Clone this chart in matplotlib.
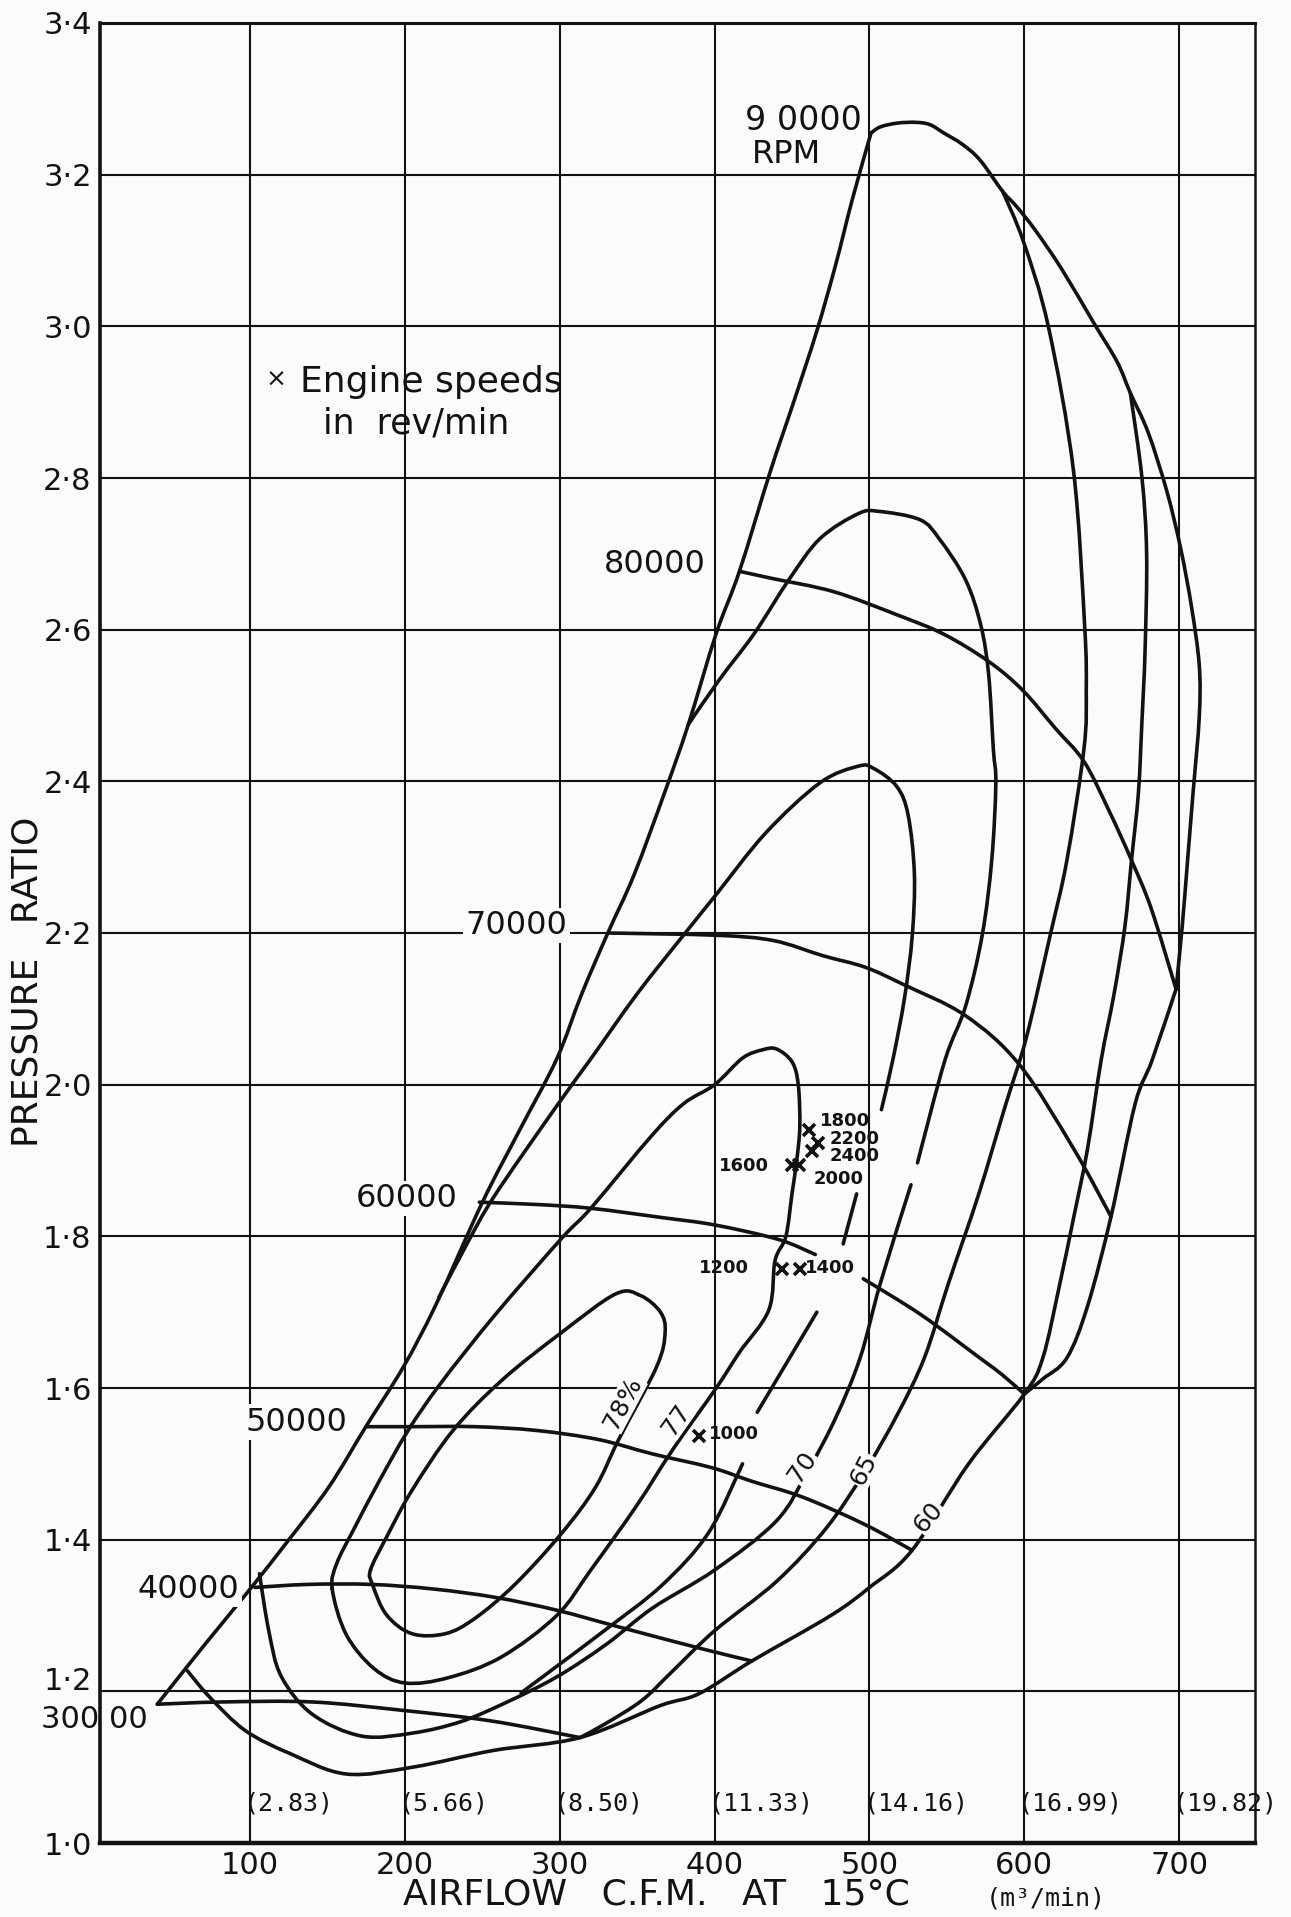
import matplotlib
matplotlib.use("Agg")
import matplotlib.pyplot as plt
from matplotlib.path import Path
from matplotlib.patches import PathPatch
from matplotlib.transforms import ScaledTranslation

plt.rcParams['font.family'] = ['DejaVu Sans']

# ---------------- axes / ticks ----------------
x_ticks = [100, 200, 300, 400, 500, 600, 700]
x_tick_labels = ["100", "200", "300", "400", "500", "600", "700"]
m3_labels = ["(2.83)", "(5.66)", "(8.50)", "(11.33)", "(14.16)", "(16.99)", "(19.82)"]
y_ticks = [1.0, 1.2, 1.4, 1.6, 1.8, 2.0, 2.2, 2.4, 2.6, 2.8, 3.0, 3.2, 3.4]
y_tick_labels = ["1·0", "1·2", "1·4", "1·6", "1·8", "2·0", "2·2", "2·4", "2·6", "2·8", "3·0", "3·2", "3·4"]

# ---------------- surge line ----------------
surge_x = [40, 70, 100, 125, 151, 175, 199, 220, 250, 274, 298, 314, 331, 348, 368, 383, 401, 416, 436, 451, 466, 478, 489, 501]
surge_y = [1.183, 1.26, 1.335, 1.40, 1.47, 1.55, 1.628, 1.71, 1.845, 1.94, 2.034, 2.119, 2.2, 2.277, 2.387, 2.475, 2.595, 2.677, 2.809, 2.90, 2.994, 3.08, 3.168, 3.255]

# ---------------- speed lines (rpm) ----------------
rpm90_x = [501, 507, 518, 530, 539, 548, 560, 571.5, 586, 595, 607, 624, 645, 660, 668.5, 680, 692, 701, 708, 713, 713, 709, 705.5, 702, 698]
rpm90_y = [3.255, 3.263, 3.268, 3.269, 3.266, 3.255, 3.24, 3.219, 3.178, 3.158, 3.127, 3.076, 3.004, 2.953, 2.912, 2.86, 2.783, 2.707, 2.63, 2.553, 2.485, 2.385, 2.297, 2.209, 2.126]
rpm80_x = [416, 436, 477, 518.5, 548, 577, 599, 620, 638.6, 655, 669, 682, 698]
rpm80_y = [2.677, 2.668, 2.65, 2.619, 2.594, 2.558, 2.52, 2.47, 2.426, 2.36, 2.297, 2.232, 2.126]
rpm70_x = [331, 401, 438, 470, 497, 522, 562, 597, 632, 656]
rpm70_y = [2.2, 2.197, 2.19, 2.17, 2.155, 2.132, 2.091, 2.026, 1.915, 1.826]
rpm60a_x = [248, 285, 320, 365, 400, 441, 465]
rpm60a_y = [1.845, 1.842, 1.837, 1.825, 1.815, 1.796, 1.776]
rpm60b_x = [496, 533, 571, 586, 600]
rpm60b_y = [1.744, 1.697, 1.64, 1.617, 1.592]
rpm50_x = [175, 205, 245, 285, 325, 360, 398, 424, 457, 497, 527.5]
rpm50_y = [1.549, 1.549, 1.549, 1.544, 1.532, 1.513, 1.495, 1.477, 1.456, 1.42, 1.386]
rpm40_x = [103, 137.5, 178, 218, 258, 298, 338, 392, 424]
rpm40_y = [1.337, 1.341, 1.341, 1.335, 1.324, 1.307, 1.285, 1.256, 1.24]
rpm30_x = [40, 82.5, 140, 198, 255.5, 313]
rpm30_y = [1.183, 1.186, 1.186, 1.175, 1.161, 1.139]

# upper choke line (from the 90000/80000 corner down to the 60 % boundary)
choke_x = [698, 682.5, 671.5, 656, 641, 627.6, 612, 600]
choke_y = [2.126, 2.032, 1.974, 1.826, 1.709, 1.64, 1.612, 1.592]

# ---------------- efficiency contours ----------------
eff78_x = [177.7, 188, 204.5, 231, 263, 301, 336, 352, 365, 368, 362.5, 338, 323, 301, 271, 245, 226, 204.5, 188, 179, 177.7]
eff78_y = [1.36, 1.403, 1.465, 1.544, 1.611, 1.673, 1.724, 1.722, 1.70, 1.673, 1.628, 1.532, 1.469, 1.408, 1.341, 1.296, 1.276, 1.276, 1.301, 1.341, 1.36]

eff77_x = [153, 156, 167, 183, 202, 223, 258, 301, 320, 359, 380, 400, 418, 431, 440, 450, 454, 455, 453, 450, 446, 439, 435, 416, 401, 373, 349, 320, 298, 262, 228, 200, 180, 162, 153]
eff77_y = [1.335, 1.369, 1.414, 1.476, 1.544, 1.606, 1.696, 1.797, 1.837, 1.932, 1.975, 2.0, 2.035, 2.046, 2.047, 2.03, 2.0, 1.945, 1.90, 1.857, 1.80, 1.768, 1.703, 1.647, 1.60, 1.519, 1.443, 1.36, 1.30, 1.245, 1.218, 1.211, 1.23, 1.275, 1.335]

effD_x = [222, 240, 258, 298, 320, 350, 381, 400.7, 433, 468, 492.8, 502.7, 517.7, 525, 529, 527.6, 522.6, 515, 507.7]
effD_y = [1.72, 1.79, 1.854, 1.972, 2.034, 2.12, 2.2, 2.25, 2.332, 2.398, 2.42, 2.417, 2.393, 2.355, 2.278, 2.196, 2.114, 2.032, 1.967]
effD_dash1_x = [491.7, 483]
effD_dash1_y = [1.856, 1.79]
effD_dash2_x = [466, 427.5]
effD_dash2_y = [1.70, 1.568]
effD_low_x = [418, 396, 366, 330, 300, 275]
effD_low_y = [1.50, 1.409, 1.34, 1.282, 1.236, 1.198]

eff70a_x = [383, 403, 425.6, 448, 468, 492.8, 506, 532.6, 545, 562, 572, 577, 580, 581.6, 579, 572.8, 562, 548.7, 531]
eff70a_y = [2.475, 2.534, 2.595, 2.666, 2.72, 2.753, 2.756, 2.745, 2.72, 2.666, 2.605, 2.54, 2.442, 2.397, 2.297, 2.197, 2.103, 2.032, 1.897]
eff70b_x = [526.8, 507, 494, 478, 460, 440, 400, 360, 330, 298, 265, 236, 205, 172, 140, 120, 112, 106]
eff70b_y = [1.868, 1.738, 1.64, 1.56, 1.49, 1.425, 1.36, 1.31, 1.262, 1.219, 1.185, 1.16, 1.145, 1.141, 1.17, 1.22, 1.28, 1.355]

eff65_x = [586, 599.4, 615.6, 631.8, 639, 640, 638.6, 627.6, 616.7, 601.3, 588, 570.6, 551, 535.5, 518, 497, 472, 440, 400, 372, 353, 330, 313]
eff65_y = [3.178, 3.112, 2.999, 2.809, 2.604, 2.52, 2.444, 2.297, 2.197, 2.062, 1.974, 1.856, 1.738, 1.64, 1.565, 1.49, 1.415, 1.345, 1.28, 1.225, 1.188, 1.158, 1.139]

# 60 % contour: top branch, outer boundary on the right, bottom loop back to the surge line
eff60_x = [668.5, 676, 679, 678, 676, 673.7, 669.3, 665, 658, 649.6, 640.8, 632, 623, 612, 600, 564, 527.5, 500, 475, 424, 390, 364.6, 313, 257, 205, 162, 125.7, 97, 74, 59.5]
eff60_y = [2.912, 2.80, 2.70, 2.573, 2.48, 2.385, 2.297, 2.209, 2.12, 2.032, 1.915, 1.826, 1.738, 1.64, 1.592, 1.50, 1.386, 1.337, 1.30, 1.24, 1.197, 1.181, 1.139, 1.122, 1.10, 1.091, 1.118, 1.148, 1.192, 1.227]

# ---------------- engine speed points ----------------
eng_x = [390, 443.5, 455, 450, 454.5, 461, 467, 463]
eng_y = [1.537, 1.757, 1.757, 1.894, 1.894, 1.94, 1.923, 1.913]

# ---------------- labels ----------------
rpm_labels = ["80000", "70000", "60000", "50000", "40000"]
rpm_label_x = [394, 305, 234, 163, 93]
rpm_label_y = [2.686, 2.21, 1.85, 1.555, 1.334]

eff_labels = ["78%", "77", "70", "65", "60"]
eff_label_x = [341, 375, 456.6, 496, 538]
eff_label_y = [1.58, 1.558, 1.496, 1.492, 1.43]
eff_label_rot = [62, 55, 55, 62, 50]

INK = '#121212'
BG = '#fbfbfb'


def smooth(xs, ys):
    """Bezier path through every traced point (Catmull-Rom tangents)."""
    pts = list(zip(xs, ys))
    n = len(pts)
    closed = n > 3 and pts[0] == pts[-1]
    verts = [pts[0]]
    codes = [Path.MOVETO]
    for i in range(n - 1):
        p1, p2 = pts[i], pts[i + 1]
        if i > 0:
            p0 = pts[i - 1]
        else:
            p0 = pts[-2] if closed else p1
        if i + 2 < n:
            p3 = pts[i + 2]
        else:
            p3 = pts[1] if closed else p2
        c1 = (p1[0] + (p2[0] - p0[0]) / 6.0, p1[1] + (p2[1] - p0[1]) / 6.0)
        c2 = (p2[0] - (p3[0] - p1[0]) / 6.0, p2[1] - (p3[1] - p1[1]) / 6.0)
        verts += [c1, c2, p2]
        codes += [Path.CURVE4] * 3
    return Path(verts, codes)


fig = plt.figure(figsize=(12.91, 19.17), dpi=100, facecolor=BG)
ax = fig.add_axes([100/1291, 74/1917, 1155/1291, 1820/1917], facecolor=BG)
ax.set_xlim(3, 749)
ax.set_ylim(1.0, 3.4)

# grid
for xv in x_ticks:
    ax.axvline(xv, color=INK, lw=1.5, zorder=1)
for yv in y_ticks[1:-1]:
    ax.axhline(yv, color=INK, lw=1.5, zorder=1)

for side, w in [('left', 2.6), ('bottom', 3.2), ('top', 2.2), ('right', 1.8)]:
    ax.spines[side].set_linewidth(w)
    ax.spines[side].set_color(INK)

ax.set_xticks(x_ticks)
ax.set_xticklabels(x_tick_labels, fontsize=22)
ax.set_yticks(y_ticks)
ax.set_yticklabels(y_tick_labels, fontsize=22)
ax.tick_params(length=0, pad=6, colors=INK)
lab12 = ax.get_yticklabels()[1]
lab12.set_transform(lab12.get_transform() + ScaledTranslation(0, 9/72, fig.dpi_scale_trans))

curves = [
    (surge_x, surge_y), (rpm90_x, rpm90_y), (rpm80_x, rpm80_y), (rpm70_x, rpm70_y),
    (rpm60a_x, rpm60a_y), (rpm60b_x, rpm60b_y), (rpm50_x, rpm50_y), (rpm40_x, rpm40_y),
    (rpm30_x, rpm30_y), (choke_x, choke_y),
    (eff78_x, eff78_y), (eff77_x, eff77_y), (effD_x, effD_y),
    (effD_dash1_x, effD_dash1_y), (effD_dash2_x, effD_dash2_y), (effD_low_x, effD_low_y),
    (eff70a_x, eff70a_y), (eff70b_x, eff70b_y), (eff65_x, eff65_y), (eff60_x, eff60_y),
]
for cx, cy in curves:
    ax.add_patch(PathPatch(smooth(cx, cy), facecolor='none', edgecolor=INK, lw=2.6,
                           capstyle='round', joinstyle='round', zorder=3))

ax.plot(eng_x, eng_y, linestyle='none', marker='x', ms=9, mew=2.6, color=INK, zorder=5)

# speed labels
box = dict(facecolor=BG, edgecolor='none', pad=1.5)
for t, x, y in zip(rpm_labels, rpm_label_x, rpm_label_y):
    ax.text(x, y, t, fontsize=23, ha='right', va='center', color=INK, bbox=box, zorder=6)
ax.text(495, 3.272, "9 0000", fontsize=24, ha='right', va='center', color=INK, zorder=6)
ax.text(424, 3.226, "RPM", fontsize=23, ha='left', va='center', color=INK, zorder=6)
ax.text(34, 1.163, "300 00", fontsize=22, ha='right', va='center', color=INK, zorder=6, clip_on=False)

# efficiency labels
for t, x, y, r in zip(eff_labels, eff_label_x, eff_label_y, eff_label_rot):
    ax.text(x, y, t, fontsize=18, ha='center', va='center', rotation=r, color=INK,
            bbox=dict(facecolor=BG, edgecolor='none', pad=0.5), zorder=6)

# engine speed labels
sm = dict(fontsize=13, color=INK, fontweight='bold', zorder=6)
ax.text(396, 1.539, "1000", ha='left', va='center', **sm)
ax.text(406, 1.758, "1200", ha='center', va='center', **sm)
ax.text(458, 1.758, "1400", ha='left', va='center', **sm)
ax.text(419, 1.893, "1600", ha='center', va='center', **sm)
ax.text(464, 1.875, "2000", ha='left', va='center', **sm)
ax.text(468, 1.952, "1800", ha='left', va='center', **sm)
ax.text(474, 1.929, "2200", ha='left', va='center', **sm)
ax.text(474, 1.906, "2400", ha='left', va='center', **sm)

# legend note
ax.text(110, 2.93, "×", fontsize=18, ha='left', va='center', color=INK)
ax.text(132, 2.927, "Engine speeds", fontsize=26, ha='left', va='center', color=INK)
ax.text(147, 2.872, "in  rev/min", fontsize=25, ha='left', va='center', color=INK)

# m3/min equivalents
for xv, t in zip(x_ticks, m3_labels):
    ax.text(xv - 4, 1.052, t, fontsize=18, ha='left', va='center', color=INK, zorder=6,
            family='DejaVu Sans Mono')

# axis titles
fig.text(0.5085, 0.0115, "AIRFLOW   C.F.M.   AT   15°C", fontsize=26, ha='center', va='center', color=INK)
fig.text(0.8097, 0.0095, "(m³/min)", fontsize=18, ha='center', va='center', color=INK,
         family='DejaVu Sans Mono')
fig.text(0.021, 0.488, "PRESSURE   RATIO", fontsize=26, ha='center', va='center', rotation=90, color=INK)

fig.savefig("out.png", dpi=100, facecolor=BG)
